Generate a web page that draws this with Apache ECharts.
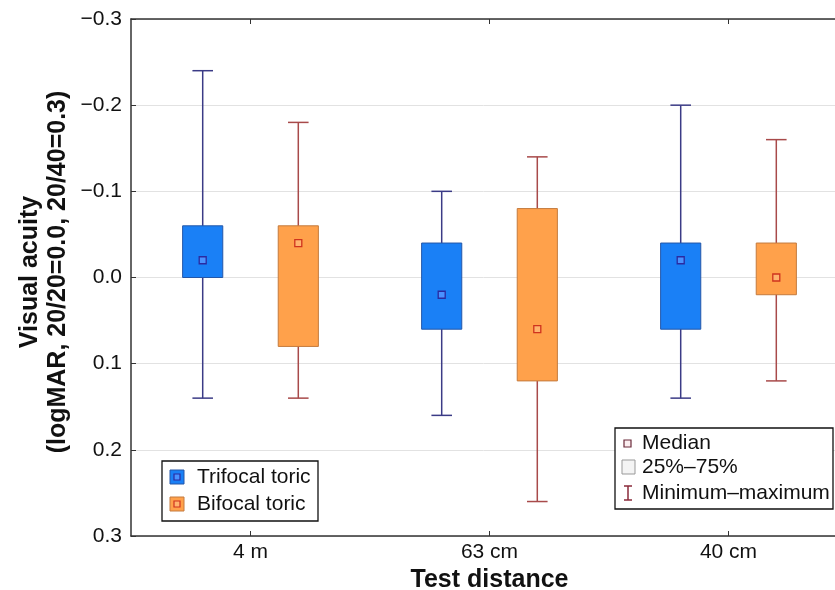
<!DOCTYPE html>
<html>
<head>
<meta charset="utf-8">
<script src="https://cdn.jsdelivr.net/npm/echarts@6/dist/echarts.min.js"></script>
<style>
html,body{margin:0;padding:0;background:#fff;overflow:hidden;}
#chart{width:835px;height:590px;}
</style>
</head>
<body>
<div id="chart"></div>
<script>
var categories = ['4 m', '63 cm', '40 cm'];
var yTicks = [-0.3, -0.2, -0.1, 0.0, 0.1, 0.2, 0.3];

// Trifocal toric (values in logMAR; axis is inverted)
var trifocalMin    = [-0.24, -0.10, -0.20];
var trifocalQ1     = [-0.06, -0.04, -0.04];
var trifocalMedian = [-0.02,  0.02, -0.02];
var trifocalQ3     = [ 0.00,  0.06,  0.06];
var trifocalMax    = [ 0.14,  0.16,  0.14];

// Bifocal toric
var bifocalMin    = [-0.18, -0.14, -0.16];
var bifocalQ1     = [-0.06, -0.08, -0.04];
var bifocalMedian = [-0.04,  0.06,  0.00];
var bifocalQ3     = [ 0.08,  0.12,  0.02];
var bifocalMax    = [ 0.14,  0.26,  0.12];

var FONT = "'Liberation Sans', Arial, sans-serif";

function build(mins, q1, med, q3, maxs) {
  return categories.map(function (c, i) {
    return [i, mins[i], q1[i], med[i], q3[i], maxs[i]];
  });
}

function renderBox(offset, c) {
  return function (params, api) {
    var i = api.value(0);
    var band = api.size([1, 0])[0];
    var cx = api.coord([i, 0])[0] + offset * band;
    var yMin = api.coord([i, api.value(1)])[1];
    var yQ1 = api.coord([i, api.value(2)])[1];
    var yMed = api.coord([i, api.value(3)])[1];
    var yQ3 = api.coord([i, api.value(4)])[1];
    var yMax = api.coord([i, api.value(5)])[1];
    var hw = band * 0.084, cw = band * 0.043, mw = 3.5;
    var wStyle = {stroke: c.whisker, lineWidth: 1.5};
    return {
      type: 'group',
      children: [
        {type: 'line', shape: {x1: cx, y1: yMin, x2: cx, y2: yMax}, style: wStyle},
        {type: 'line', shape: {x1: cx - cw, y1: yMin, x2: cx + cw, y2: yMin}, style: wStyle},
        {type: 'line', shape: {x1: cx - cw, y1: yMax, x2: cx + cw, y2: yMax}, style: wStyle},
        {type: 'rect', shape: {x: cx - hw, y: Math.min(yQ1, yQ3), width: 2 * hw, height: Math.abs(yQ3 - yQ1)},
          style: {fill: c.fill, stroke: c.border, lineWidth: 1}},
        {type: 'rect', shape: {x: cx - mw, y: yMed - mw, width: 2 * mw, height: 2 * mw},
          style: {fill: c.medFill, stroke: c.medStroke, lineWidth: 1.3}}
      ]
    };
  };
}

var blue = {fill: '#1a80f6', border: '#2457a8', whisker: '#3b3b86', medFill: '#4a92ff', medStroke: '#2a2aa0'};
var orange = {fill: '#ffa14b', border: '#c47b3e', whisker: '#a84a4a', medFill: '#ffb36e', medStroke: '#d0331e'};

var chart = echarts.init(document.getElementById('chart'), null, {renderer: 'canvas'});

function gEl(o) { o.z = 100; o.zlevel = 0; return o; }

var option = {
  backgroundColor: '#fff',
  animation: false,
  textStyle: {fontFamily: FONT},
  grid: {left: 131, top: 19, width: 717, height: 517, containLabel: false, outerBoundsMode: 'none'},
  xAxis: [{
    type: 'category',
    data: categories,
    position: 'bottom',
    axisLine: {show: true, onZero: false, lineStyle: {color: '#333', width: 1.5}},
    axisTick: {show: true, inside: true, alignWithLabel: true, length: 5, lineStyle: {color: '#333'}},
    axisLabel: {fontSize: 21, color: '#111', margin: 6, fontFamily: FONT},
    splitLine: {show: false},
    name: 'Test distance',
    nameLocation: 'middle',
    nameGap: 31,
    nameTextStyle: {fontSize: 25, fontWeight: 'bold', color: '#111', fontFamily: FONT}
  }, {
    type: 'category',
    data: categories,
    position: 'top',
    axisLine: {show: true, onZero: false, lineStyle: {color: '#333', width: 1.5}},
    axisTick: {show: true, inside: true, alignWithLabel: true, length: 5, lineStyle: {color: '#333'}},
    axisLabel: {show: false},
    splitLine: {show: false}
  }],
  yAxis: [{
    type: 'value',
    inverse: true,
    min: yTicks[0],
    max: yTicks[yTicks.length - 1],
    interval: 0.1,
    axisLine: {show: true, onZero: false, lineStyle: {color: '#333', width: 1.5}},
    axisTick: {show: true, inside: true, length: 5, lineStyle: {color: '#333'}},
    axisLabel: {
      fontSize: 21, color: '#111', margin: 9, fontFamily: FONT,
      formatter: function (v) {
        var s = Math.abs(v).toFixed(1);
        return (v < -1e-9 ? '\u2212' : '') + s;
      }
    },
    splitLine: {show: true, lineStyle: {color: '#e2e2e2', width: 1}}
  }],
  series: [{
    name: 'Trifocal toric',
    type: 'custom',
    xAxisIndex: 0,
    yAxisIndex: 0,
    renderItem: renderBox(-0.2, blue),
    encode: {x: 0, y: [1, 2, 3, 4, 5]},
    data: build(trifocalMin, trifocalQ1, trifocalMedian, trifocalQ3, trifocalMax),
    z: 3
  }, {
    name: 'Bifocal toric',
    type: 'custom',
    xAxisIndex: 0,
    yAxisIndex: 0,
    renderItem: renderBox(0.2, orange),
    encode: {x: 0, y: [1, 2, 3, 4, 5]},
    data: build(bifocalMin, bifocalQ1, bifocalMedian, bifocalQ3, bifocalMax),
    z: 3
  }],
  graphic: {
    elements: [
      gEl({
        type: 'text',
        x: 44, y: 272, rotation: Math.PI / 2,
        style: {
          text: 'Visual acuity\n(logMAR, 20/20=0.0, 20/40=0.3)',
          font: 'bold 25px ' + FONT,
          fill: '#111',
          textAlign: 'center',
          textVerticalAlign: 'middle',
          lineHeight: 28
        }
      }),
      gEl({type: 'rect', shape: {x: 162, y: 461, width: 156, height: 60}, style: {fill: '#fff', stroke: '#111', lineWidth: 1.3}}),
      gEl({type: 'rect', shape: {x: 170, y: 470, width: 14, height: 14}, style: {fill: blue.fill, stroke: blue.border, lineWidth: 1}}),
      gEl({type: 'rect', shape: {x: 174, y: 474, width: 6, height: 6}, style: {fill: blue.medFill, stroke: blue.medStroke, lineWidth: 1.2}}),
      gEl({type: 'text', x: 197, y: 477, style: {text: 'Trifocal toric', font: '21px ' + FONT, fill: '#111', textVerticalAlign: 'middle'}}),
      gEl({type: 'rect', shape: {x: 170, y: 497, width: 14, height: 14}, style: {fill: orange.fill, stroke: orange.border, lineWidth: 1}}),
      gEl({type: 'rect', shape: {x: 174, y: 501, width: 6, height: 6}, style: {fill: orange.medFill, stroke: orange.medStroke, lineWidth: 1.2}}),
      gEl({type: 'text', x: 197, y: 504, style: {text: 'Bifocal toric', font: '21px ' + FONT, fill: '#111', textVerticalAlign: 'middle'}}),
      gEl({type: 'rect', shape: {x: 615, y: 428, width: 218, height: 81}, style: {fill: '#fff', stroke: '#111', lineWidth: 1.3}}),
      gEl({type: 'rect', shape: {x: 624, y: 440, width: 7, height: 7}, style: {fill: '#fbeef0', stroke: '#6a2a3a', lineWidth: 1.2}}),
      gEl({type: 'text', x: 642, y: 443, style: {text: 'Median', font: '21px ' + FONT, fill: '#111', textVerticalAlign: 'middle'}}),
      gEl({type: 'rect', shape: {x: 622, y: 460, width: 13, height: 14}, style: {fill: '#f4f4f4', stroke: '#999', lineWidth: 1}}),
      gEl({type: 'text', x: 642, y: 467, style: {text: '25%\u201375%', font: '21px ' + FONT, fill: '#111', textVerticalAlign: 'middle'}}),
      gEl({type: 'line', shape: {x1: 628, y1: 486, x2: 628, y2: 500}, style: {stroke: '#8a2a3a', lineWidth: 1.5}}),
      gEl({type: 'line', shape: {x1: 624, y1: 486, x2: 632, y2: 486}, style: {stroke: '#8a2a3a', lineWidth: 1.5}}),
      gEl({type: 'line', shape: {x1: 624, y1: 500, x2: 632, y2: 500}, style: {stroke: '#8a2a3a', lineWidth: 1.5}}),
      gEl({type: 'text', x: 642, y: 493, style: {text: 'Minimum\u2013maximum', font: '21px ' + FONT, fill: '#111', textVerticalAlign: 'middle'}})
    ]
  }
};
chart.setOption(option);
</script>
</body>
</html>
